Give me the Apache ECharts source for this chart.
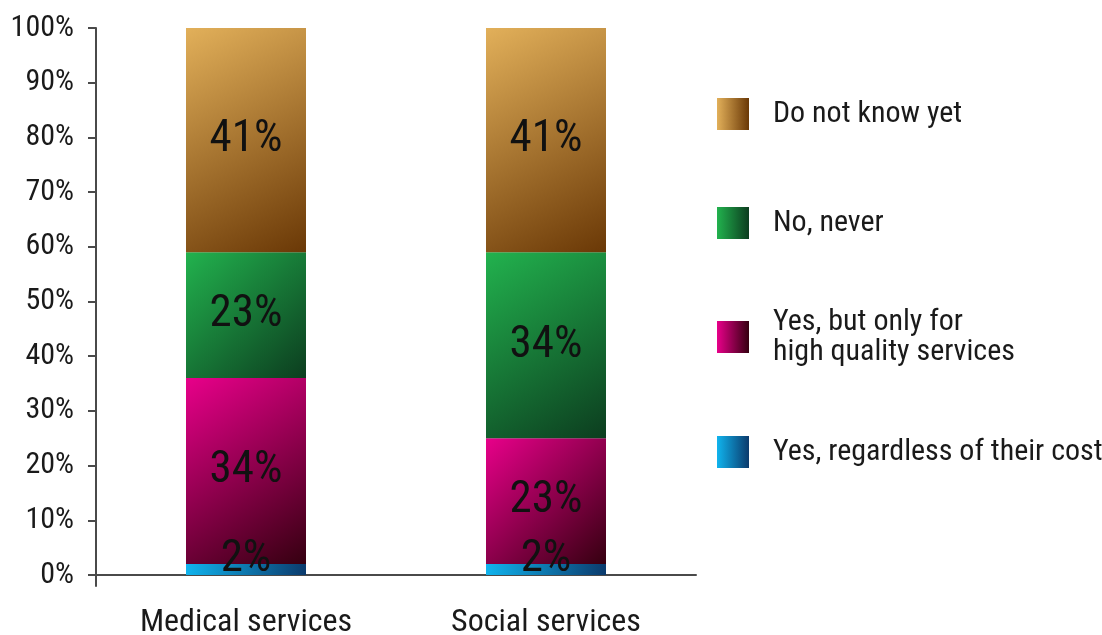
<!DOCTYPE html>
<html>
<head>
<meta charset="utf-8">
<title>Willingness to pay for services</title>
<script src="https://cdn.jsdelivr.net/npm/echarts@6/dist/echarts.min.js"></script>
<style>
  html, body { margin: 0; padding: 0; background: #ffffff; }
  #chart { width: 1102px; height: 635px; }
</style>
</head>
<body>
<div id="chart"></div>
<script>
// Survey answers, percent of respondents per service type
const categories = ['Medical services', 'Social services'];
const regardless = [2, 2];
const highQuality = [34, 23];
const never = [23, 34];
const dontKnow = [41, 41];
const yTicks = [0, 10, 20, 30, 40, 50, 60, 70, 80, 90, 100];

const seriesNames = {
  regardless: 'Yes, regardless of their cost',
  highQuality: 'Yes, but only for\nhigh quality services',
  never: 'No, never',
  dontKnow: 'Do not know yet'
};

const FONT = '"Roboto Condensed", "Liberation Sans Narrow", sans-serif';
const TEXT = '#1a1a1a';

// diagonal shading for bar segments, horizontal shading for legend swatches
const diag = (a, b) => new echarts.graphic.LinearGradient(0, 0, 1, 1, [
  { offset: 0, color: a }, { offset: 1, color: b }
]);
const horiz = (a, b) => new echarts.graphic.LinearGradient(0, 0, 1, 0, [
  { offset: 0, color: a }, { offset: 1, color: b }
]);

const palette = {
  regardless: ['#10b4ee', '#0b3a6c'],
  highQuality: ['#e8008a', '#350010'],
  never: ['#22b24e', '#0c3d1f'],
  dontKnow: ['#e2b05a', '#6a3806']
};

function barSeries(key, values, labelOffset) {
  return {
    name: seriesNames[key],
    type: 'bar',
    stack: 'total',
    barWidth: 120,
    data: values,
    itemStyle: { color: diag(palette[key][0], palette[key][1]) },
    label: {
      show: true,
      position: 'inside',
      offset: labelOffset || [0, 0],
      formatter: '{c}%',
      fontFamily: FONT,
      fontSize: 45,
      color: '#111111'
    },
    emphasis: { disabled: true }
  };
}

function legendFor(key, top) {
  return {
    orient: 'vertical',
    left: 717,
    top: top,
    padding: 0,
    itemWidth: 32,
    itemHeight: 32,
    icon: 'rect',
    selectedMode: false,
    data: [{
      name: seriesNames[key],
      itemStyle: { color: horiz(palette[key][0], palette[key][1]) }
    }],
    textStyle: {
      fontFamily: FONT,
      fontSize: 30,
      lineHeight: 30,
      color: TEXT,
      padding: [0, 0, 0, 19]
    }
  };
}

const chart = echarts.init(document.getElementById('chart'), null, { renderer: 'canvas' });

chart.setOption({
  animation: false,
  backgroundColor: '#ffffff',
  grid: {
    left: 96, top: 28, width: 600, bottom: 49,
    containLabel: false,
    outerBoundsMode: 'none'
  },
  legend: [
    legendFor('dontKnow', 98),
    legendFor('never', 207),
    legendFor('highQuality', 307),
    legendFor('regardless', 436)
  ],
  xAxis: {
    type: 'category',
    data: categories,
    axisLine: { onZero: true, lineStyle: { color: '#4a4a4a', width: 2 } },
    axisTick: { show: false },
    axisLabel: {
      interval: 0,
      margin: 21,
      fontFamily: FONT,
      fontSize: 32,
      color: TEXT
    }
  },
  yAxis: {
    type: 'value',
    min: -2,
    max: 100,
    splitLine: { show: false },
    axisLine: { show: true, lineStyle: { color: '#4a4a4a', width: 2 } },
    axisTick: { show: true, length: 8, customValues: yTicks, lineStyle: { color: '#4a4a4a', width: 2 } },
    axisLabel: {
      customValues: yTicks,
      formatter: '{value}%',
      margin: 22,
      fontFamily: FONT,
      fontSize: 30,
      color: TEXT
    }
  },
  series: [
    barSeries('regardless', regardless, [0, -10]),
    barSeries('highQuality', highQuality),
    barSeries('never', never),
    barSeries('dontKnow', dontKnow)
  ]
});
</script>
</body>
</html>
